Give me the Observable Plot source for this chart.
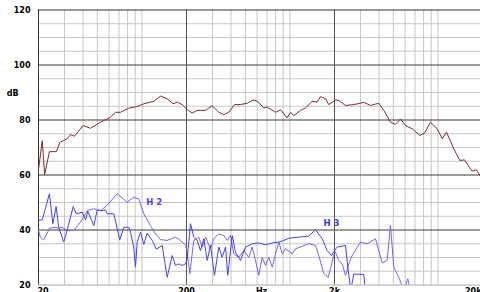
<!DOCTYPE html>
<html><head><meta charset="utf-8">
<script src="https://cdn.jsdelivr.net/npm/d3@7"></script>
<script src="https://cdn.jsdelivr.net/npm/@observablehq/plot@0.6"></script>
<style>html,body{margin:0;padding:0;overflow:hidden;background:#fff;width:480px;height:292px}</style>
</head><body><div id="chart"></div>
<script>
// Frequency response (Hz, dB)
const respFreq = [20.1,21.2,22.0,23.7,26.4,27.9,31.3,32.9,35.0,40.1,44.9,52.5,61.3,66.3,71.6,81.5,92.9,102.9,120.2,133.5,148.1,162.6,173.1,187.1,202.2,218.5,236.2,268.9,298.4,330.6,357.3,386.2,422,463.3,514.4,564.8,606.5,665.5,702,798.8,863.8,957.6,1009,1062,1178,1274,1413,1528,1608,1739,1830,2032,2139,2374,2700,3157,3501,3984,4308,4777,5167,5586,6040,6700,7536,8110,8909,9886,10688,11428,12800,14060,15112,17030,18220,19370];
const respDb = [62.8,72.5,60.1,68.5,68.5,71.9,73.2,74.7,74.1,78,77,79.2,81,82.8,82.8,84.3,84.9,85.9,86.8,88.7,87.7,85.9,86.5,85.6,83.8,82.5,83.5,83.5,85.2,82.8,82,82.8,85.6,85.6,86.1,87.3,86.7,84.4,84.7,82.8,83.7,80.8,82.8,81.6,83.5,84.4,86.8,86.5,88.5,87.7,85.6,87.3,87.1,85.3,85.6,86.4,85.3,86.1,83.5,79.2,78.4,80.4,78,76.8,74.4,75.2,79.2,76.8,73.2,75.6,69.5,65.3,65.5,61.4,61.9,59.5];

// 2nd harmonic
const h2Freq = [20,20.6,21.7,23.8,26.0,27.4,28.9,31.3,34.6,38.4,42.7,47.3,52.5,58.2,68.0,79.5,88.0,95.2,102.9,114.2,123.4,133.5,148.1,168.6,182.2,197.1,202.2,210.6,224,242.2,255.4,268.9,290.6,305.8,330.6,357.3,376.8,396.6,417.4,451.2,487.8,527.2,556,585,616,649,684,719,759,799,841,887,934,1036,1090,1178,1340,1488,1566,1694,1812,1930,2008,2139,2254,2374,2498,2634,2998,3326,3784,4200,4540,4777,5032,5440,5878,6256,6526,7000];
const h2Db = [39.8,37.4,36.4,40.7,41.0,40.6,41.0,39.8,39.8,42.8,47.1,47.7,47.0,49.0,53.2,50.1,51.9,51.3,45.9,41.6,38.6,36.5,36.2,37.4,36.2,34.4,31.9,24.1,36.2,37.4,33.8,37.4,33.2,36.8,38.6,38.0,36.2,38.0,31.3,30.1,32.5,30.1,33.8,28.9,23.5,30.1,27.1,30.1,26.5,31.3,35.6,31.3,33.2,31.3,33.2,33.8,35.0,34.4,30.7,24.1,22.8,28.4,32.5,28.9,27.7,23.5,27.7,30.7,35.6,35.0,36.8,28,29,41.7,26.5,22.8,18,22.3,18,15];

// 3rd harmonic
const h3Freq = [20,21.2,23.7,25.0,26.3,27.4,29.6,31.3,34.3,36.1,39.5,41.6,43.1,47.3,49.9,53.9,56.7,58.2,64.6,70.8,75.4,81.5,83.7,88.0,90.4,92.9,97.8,102.9,108.5,117.3,125,137.0,148.1,160.1,168.6,177.4,187.1,197.1,202.2,212.9,224,236.2,248.7,261.8,276,290.6,309,330.6,348.5,367,380,407.3,428.8,463.3,500.9,556,616,684,759,841,908,982,1148,1340,1488,1652,1786,1910,1978,2085,2374,2438,2575,2700,3157,3238];
const h3Db = [43.5,43.7,53.2,42.3,48.5,41.0,35.6,40.1,48.5,45.9,46.5,43.7,46.8,41.6,47.3,47.0,47.3,45.9,45.9,36.4,41.0,41.0,39.2,33.8,26.5,35.6,39.2,34.7,38.9,36.2,33,34.4,22.8,30.7,27.1,27.7,27.1,27.7,29.5,42.3,37.4,36.2,32.5,36.8,28.9,34.4,23.5,33.8,30.1,33.8,23.5,38.0,31.9,28.9,33.8,35.0,35.3,34.6,35.3,35.6,36.2,37.0,37.4,37.8,40.1,36.8,32.5,30.7,32.2,33.8,34.4,28.4,18,24,23.8,17];

// Axes and grid
const yTicks = [20,40,60,80,100,120];
const yMajorGrid = [40,60,80,100];
const yMinorGrid = [25,30,35,45,50,55,65,70,75,85,90,95,105,110,115];
const xMinorGrid = [30,40,50,60,70,80,90,100,300,400,500,600,700,800,900,1000,3000,4000,5000,6000,7000,8000,9000,10000];
const xMajorGrid = [200,2000];
const xTickValues = [20,200,2000,20000];
const xTickLabels = ["20","200","2k","20k"];
const labels = [{f:107, db:50, t:"H 2", c:"#5a3de0"},{f:1686, db:42.4, t:"H 3", c:"#3a3ad6"}];

const toRows = (fs, ds) => fs.map((f,i)=>({f, db: ds[i]}));
const resp = toRows(respFreq, respDb);
const h2 = toRows(h2Freq, h2Db);
const h3 = toRows(h3Freq, h3Db);
const xTicks = xTickValues.map((v,i)=>({v, t:xTickLabels[i]}));

const chart = Plot.plot({
  width: 480, height: 300,
  marginLeft: 38, marginRight: 0, marginTop: 9.5, marginBottom: 15.5,
  style: {fontFamily: "'DejaVu Sans', Verdana, sans-serif", fontSize: "8px", fontWeight: "bold", background: "#fff", overflow: "hidden"},
  x: {type: "log", domain: [20, 20000], range: [38, 482], axis: null},
  y: {domain: [20, 120], range: [284.5, 9.5], axis: null},
  marks: [
    Plot.ruleY(yMinorGrid, {stroke: "#c6c6c6", strokeWidth: 1}),
    Plot.ruleX(xMinorGrid, {stroke: "#c6c6c6", strokeWidth: 1, y1: 20, y2: 120}),
    Plot.ruleY([20], {stroke: "#aaa"}),
    Plot.ruleY(yMajorGrid, {stroke: "#3a3a3a", strokeWidth: 1}),
    Plot.ruleX(xMajorGrid, {stroke: "#555", strokeWidth: 1, y1: 20, y2: 120}),
    Plot.ruleY([120], {stroke: "#333", strokeWidth: 1}),
    Plot.ruleX([20], {stroke: "#333", strokeWidth: 1, y1: 20, y2: 120}),
    Plot.line(h2, {x: "f", y: "db", stroke: "#7c60f2", strokeWidth: 1, clip: true}),
    Plot.line(h3, {x: "f", y: "db", stroke: "#4040f6", strokeWidth: 1, clip: true}),
    Plot.line(resp, {x: "f", y: "db", stroke: "#7a2e2e", strokeWidth: 1, clip: true}),
    Plot.text(labels, {x: "f", y: "db", text: "t", fill: d=>d.c, textAnchor: "start", fontSize: 8.5, fontWeight: "bold"}),
    Plot.text(yTicks, {x: 20, y: d=>d, text: d=>String(d), textAnchor: "end", dx: -8, fill: "#000"}),
    Plot.text(["dB"], {x: 20, y: 89.6, text: d=>d, textAnchor: "end", dx: -20, fill: "#000"}),
    Plot.text(xTicks.filter(d=>d.v===20), {x: "v", y: 20, text: "t", textAnchor: "start", lineAnchor: "top", dy: 3, dx: -1, fill: "#000"}),
    Plot.text(xTicks.filter(d=>d.v>20 && d.v<20000), {x: "v", y: 20, text: "t", textAnchor: "middle", lineAnchor: "top", dy: 3, fill: "#000"}),
    Plot.text(xTicks.filter(d=>d.v===20000), {x: "v", y: 20, text: "t", textAnchor: "end", lineAnchor: "top", dy: 3, dx: -1, fill: "#000"}),
    Plot.text(["Hz"], {x: 643, y: 20, text: d=>d, textAnchor: "middle", lineAnchor: "top", dy: 3, fill: "#000"})
  ]
});
document.getElementById("chart").appendChild(chart);
</script>
</body></html>
